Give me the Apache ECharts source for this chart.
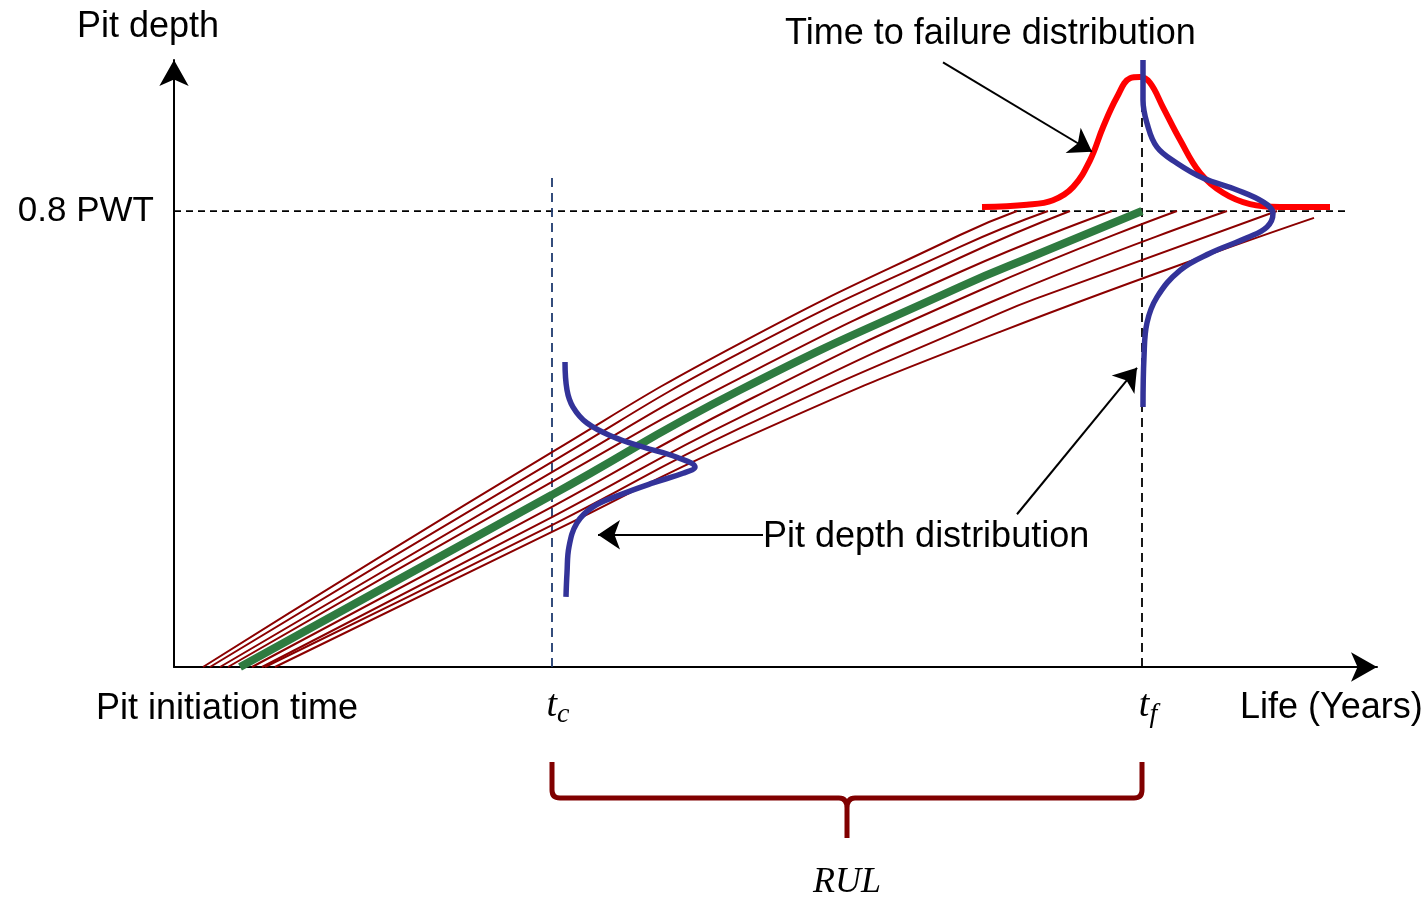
<!DOCTYPE html>
<html>
<head>
<meta charset="utf-8">
<script src="https://cdn.jsdelivr.net/npm/echarts@6/dist/echarts.min.js"></script>
<style>
  html, body { margin: 0; padding: 0; background: #fff; }
  #chart { width: 1428px; height: 898px; }
</style>
</head>
<body>
<div id="chart"></div>
<script>
// key times / thresholds (x: life, y: pit depth as fraction of wall thickness)
const tc = 3.78;
const tf = 9.68;
const pwt = 0.8;

// pit growth paths
const pitA1 = [[0.29, 0], [3.78, 0.377], [5.66, 0.568], [7.86, 0.758], [8.43, 0.800]];
const pitA2 = [[0.36, 0], [3.78, 0.360], [5.66, 0.551], [7.86, 0.737], [8.74, 0.800]];
const pitA3 = [[0.46, 0], [3.78, 0.342], [5.66, 0.530], [7.86, 0.718], [8.96, 0.800]];
const pitA4 = [[0.54, 0], [3.78, 0.325], [5.66, 0.507], [7.86, 0.693], [9.38, 0.800]];
const pitB1 = [[0.78, 0], [3.78, 0.281], [5.66, 0.461], [8.06, 0.661], [10.03, 0.800]];
const pitB2 = [[0.88, 0], [3.78, 0.263], [5.66, 0.438], [8.26, 0.647], [10.53, 0.800]];
const pitB3 = [[0.91, 0], [3.78, 0.249], [5.66, 0.419], [8.26, 0.621], [8.66, 0.649], [11.03, 0.800]];
const pitB4 = [[1.01, 0], [3.78, 0.237], [5.66, 0.398], [8.26, 0.588], [11.40, 0.788]];
const pitMean = [[0.66, 0], [3.78, 0.302], [5.66, 0.486], [7.86, 0.667], [8.66, 0.726], [9.68, 0.800]];

// pit depth distribution at tc (drawn sideways)
const distDepthTc = [
  [3.91, 0.535], [3.93, 0.486], [3.99, 0.456], [4.13, 0.428], [4.39, 0.404], [4.69, 0.386],
  [5.03, 0.368], [5.21, 0.351], [5.09, 0.340], [4.79, 0.323], [4.46, 0.302], [4.19, 0.281],
  [4.03, 0.253], [3.95, 0.211], [3.93, 0.165], [3.92, 0.123]
];
// time to failure distribution
const distTtf = [
  [8.08, 0.807], [8.53, 0.811], [8.79, 0.819], [8.99, 0.842], [9.16, 0.889], [9.29, 0.947],
  [9.43, 1.000], [9.56, 1.033], [9.66, 1.035], [9.76, 1.025], [9.89, 0.982], [10.06, 0.925],
  [10.26, 0.867], [10.49, 0.832], [10.76, 0.812], [11.06, 0.807], [11.56, 0.807]
];
// pit depth distribution at tf (drawn sideways)
const distDepthTf = [
  [9.69, 1.065], [9.69, 0.995], [9.73, 0.954], [9.83, 0.912], [10.03, 0.884], [10.29, 0.858],
  [10.63, 0.837], [10.89, 0.816], [10.99, 0.796], [10.93, 0.772], [10.73, 0.753], [10.36, 0.726],
  [10.06, 0.696], [9.83, 0.649], [9.73, 0.604], [9.70, 0.544], [9.69, 0.456]
];

// reference lines
const pwtLine = [[0, pwt], [11.71, pwt]];
const tcLine = [[tc, 0], [tc, 0.868]];
const tfLine = [[tf, 0], [tf, 1.0]];

// annotation arrows
const arrowTtf = [[7.69, 1.061], [9.18, 0.904]];
const arrowDepthTc = [[5.89, 0.232], [4.24, 0.232]];
const arrowDepthTf = [[8.43, 0.268], [9.63, 0.525]];

const chart = echarts.init(document.getElementById('chart'));
const sansFont = '"Liberation Sans", Arial, sans-serif';
const serifFont = '"Liberation Serif", "Times New Roman", serif';

const brownCurves = [pitA1, pitA2, pitA3, pitA4, pitB1, pitB2, pitB3, pitB4];

const lineBase = { type: 'line', showSymbol: false, symbol: 'none', clip: false, silent: true };

const textEl = (x, y, text) => ({
  type: 'text', x, y,
  style: { text, font: '36px ' + sansFont, fill: '#000', align: 'left', verticalAlign: 'middle' }
});

chart.setOption({
  animation: false,
  backgroundColor: '#fff',
  grid: { left: 174, right: 51, top: 60, bottom: 231 },
  xAxis: {
    type: 'value', min: 0, max: 12.03,
    axisLine: { onZero: true, symbol: ['none', 'arrow'], symbolSize: [22, 26], lineStyle: { color: '#000', width: 2 } },
    axisTick: { show: false },
    splitLine: { show: false },
    axisLabel: {
      customValues: [tc, tf],
      margin: 16,
      formatter: v => Math.abs(v - tc) < 1e-6 ? '{t|t}{s|c}' : '{t|t}{s|f}',
      rich: {
        t: { fontFamily: serifFont, fontStyle: 'italic', fontSize: 38, color: '#000', padding: [0, 0, 0, 12] },
        s: { fontFamily: serifFont, fontStyle: 'italic', fontSize: 28, color: '#000', padding: [18, 0, 0, 0] }
      }
    }
  },
  yAxis: {
    type: 'value', min: 0, max: 1.065, interval: 0.8,
    axisLine: { symbol: ['none', 'arrow'], symbolSize: [22, 26], lineStyle: { color: '#000', width: 2 } },
    axisTick: { show: false },
    splitLine: { show: false },
    axisLabel: {
      margin: 20,
      fontFamily: sansFont, fontSize: 35, color: '#000',
      formatter: v => Math.abs(v - pwt) < 1e-6 ? '0.8 PWT' : ''
    }
  },
  graphic: [
    textEl(77, 27, 'Pit depth'),
    textEl(785, 34, 'Time to failure distribution'),
    textEl(96, 709, 'Pit initiation time'),
    textEl(1240, 708, 'Life (Years)'),
    textEl(763, 537, 'Pit depth distribution')
  ],
  series: [
    Object.assign({}, lineBase, { data: pwtLine, z: 1, lineStyle: { color: '#000', width: 1.8, type: [7, 5] } }),
    Object.assign({}, lineBase, { data: tcLine, z: 1, lineStyle: { color: '#1f3a6e', width: 1.8, type: [9, 6] } }),
    Object.assign({}, lineBase, { data: tfLine, z: 1, lineStyle: { color: '#000', width: 1.8, type: [9, 6] } }),
    ...brownCurves.map(d => Object.assign({}, lineBase, {
      data: d, z: 2, smooth: 0.5, lineStyle: { color: '#8b0000', width: 2 }
    })),
    Object.assign({}, lineBase, { data: pitMean, z: 3, smooth: 0.5, lineStyle: { color: '#2e7b40', width: 8, cap: 'butt' } }),
    Object.assign({}, lineBase, { data: distTtf, z: 4, smooth: 0.4, lineStyle: { color: '#ff0000', width: 6 } }),
    Object.assign({}, lineBase, { data: distDepthTc, z: 5, smooth: 0.4, lineStyle: { color: '#333399', width: 5.5 } }),
    Object.assign({}, lineBase, { data: distDepthTf, z: 5, smooth: 0.4, lineStyle: { color: '#333399', width: 5.5 } }),
    {
      type: 'lines', coordinateSystem: 'cartesian2d', z: 6, silent: true, clip: false,
      symbol: ['none', 'arrow'], symbolSize: [16, 22],
      lineStyle: { color: '#000', width: 2, opacity: 1 },
      data: [{ coords: arrowTtf }, { coords: arrowDepthTc }, { coords: arrowDepthTf }]
    },
    {
      // RUL brace from tc to tf
      type: 'custom', z: 6, silent: true, clip: false,
      data: [[tc, tf]],
      renderItem: (params, api) => {
        const a = api.coord([api.value(0), 0]);
        const b = api.coord([api.value(1), 0]);
        const x1 = a[0], x2 = b[0], base = a[1];
        const top = base + 95, h = base + 131, tip = base + 171;
        const mx = (x1 + x2) / 2;
        const d = [
          'M', x1, top, 'L', x1, h - 8, 'Q', x1, h, x1 + 8, h,
          'L', mx - 8, h, 'Q', mx, h, mx, h + 10, 'L', mx, tip,
          'M', mx, h + 10, 'Q', mx, h, mx + 8, h,
          'L', x2 - 8, h, 'Q', x2, h, x2, h - 8, 'L', x2, top
        ].join(' ');
        return {
          type: 'group',
          children: [
            { type: 'path', shape: { pathData: d }, style: { stroke: '#800000', lineWidth: 5, fill: null } },
            { type: 'text', x: mx, y: base + 216, style: { text: 'RUL', font: 'italic 36px ' + serifFont, fill: '#000', align: 'center', verticalAlign: 'middle' } }
          ]
        };
      }
    }
  ]
});
</script>
</body>
</html>
